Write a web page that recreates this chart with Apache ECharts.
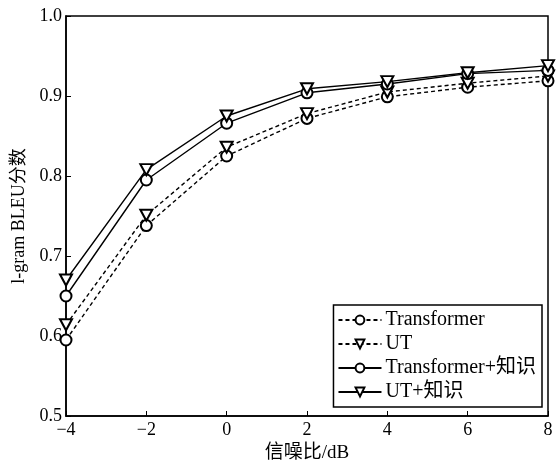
<!DOCTYPE html>
<html>
<head>
<meta charset="utf-8">
<script src="https://cdn.jsdelivr.net/npm/echarts@6/dist/echarts.min.js"></script>
<style>
  html, body { margin: 0; padding: 0; background: #fff; }
  #chart { width: 556px; height: 463px; }
</style>
</head>
<body>
<div id="chart"></div>
<script>
// signal-to-noise ratio (dB)
const snr = [-4, -2, 0, 2, 4, 6, 8];

const transformer = [0.595, 0.738, 0.825, 0.872, 0.899, 0.911, 0.919];
const ut = [0.614, 0.751, 0.836, 0.878, 0.905, 0.916, 0.925];
const transformerKg = [0.650, 0.795, 0.866, 0.904, 0.915, 0.928, 0.932];
const utKg = [0.670, 0.808, 0.875, 0.909, 0.918, 0.929, 0.938];

const seriesNames = ['Transformer', 'UT', 'Transformer+知识', 'UT+知识'];

const font = '"Liberation Serif", "Noto Sans CJK SC", serif';

const el = document.getElementById('chart');
const chart = echarts.init(el);

function pairs(vals) {
  return snr.map((x, i) => [x, vals[i]]);
}

function makeSeries(name, vals, dashed, tri) {
  return {
    name,
    type: 'line',
    data: pairs(vals),
    symbol: tri ? 'emptyTriangle' : 'emptyCircle',
    symbolRotate: tri ? 180 : 0,
    symbolSize: tri ? [12, 11] : 11,
    showAllSymbol: true,
    itemStyle: { color: '#000', borderColor: '#000', borderWidth: 1.1 },
    lineStyle: { color: '#000', width: 1.4, type: dashed ? [4, 3] : 'solid' },
    emphasis: { disabled: true },
    z: 3
  };
}

chart.setOption({
  animation: false,
  backgroundColor: '#fff',
  textStyle: { fontFamily: font },
  grid: {
    left: 66, right: 8, top: 16, bottom: 47,
    outerBoundsMode: 'none',
    show: true,
    borderColor: '#000',
    borderWidth: 1.5,
    backgroundColor: 'transparent'
  },
  legend: {
    orient: 'vertical',
    right: 14,
    bottom: 56,
    itemWidth: 43,
    itemHeight: 11,
    itemGap: 4,
    padding: [5, 6, 5, 4],
    borderColor: '#000',
    borderWidth: 1.5,
    backgroundColor: '#fff',
    textStyle: { fontFamily: font, fontSize: 20, color: '#000', padding: [0, 0, 0, -1] },
    data: seriesNames
  },
  xAxis: {
    type: 'value',
    min: -4, max: 8, interval: 2,
    name: '信噪比/dB',
    nameLocation: 'middle',
    nameGap: 27,
    nameTextStyle: { fontFamily: font, fontSize: 19, color: '#000' },
    axisLine: { onZero: false, lineStyle: { color: '#000', width: 1.5 } },
    axisTick: { inside: true, length: 5, lineStyle: { color: '#000' } },
    axisLabel: {
      color: '#000', fontSize: 18, fontFamily: font, margin: 5,
      formatter: v => (v < 0 ? '\u2212' + Math.abs(v) : String(v))
    },
    splitLine: { show: false }
  },
  yAxis: {
    type: 'value',
    min: 0.5, max: 1.0, interval: 0.1,
    name: 'l-gram BLEU分数',
    nameLocation: 'middle',
    nameGap: 37,
    nameTextStyle: { fontFamily: font, fontSize: 18, color: '#000' },
    axisLine: { onZero: false, lineStyle: { color: '#000', width: 1.5 } },
    axisTick: { inside: true, length: 5, lineStyle: { color: '#000' } },
    axisLabel: {
      color: '#000', fontSize: 18, fontFamily: font, margin: 4,
      formatter: v => v.toFixed(1)
    },
    splitLine: { show: false }
  },
  series: [
    makeSeries(seriesNames[0], transformer, true, false),
    makeSeries(seriesNames[1], ut, true, true),
    makeSeries(seriesNames[2], transformerKg, false, false),
    makeSeries(seriesNames[3], utKg, false, true)
  ]
});
</script>
</body>
</html>
